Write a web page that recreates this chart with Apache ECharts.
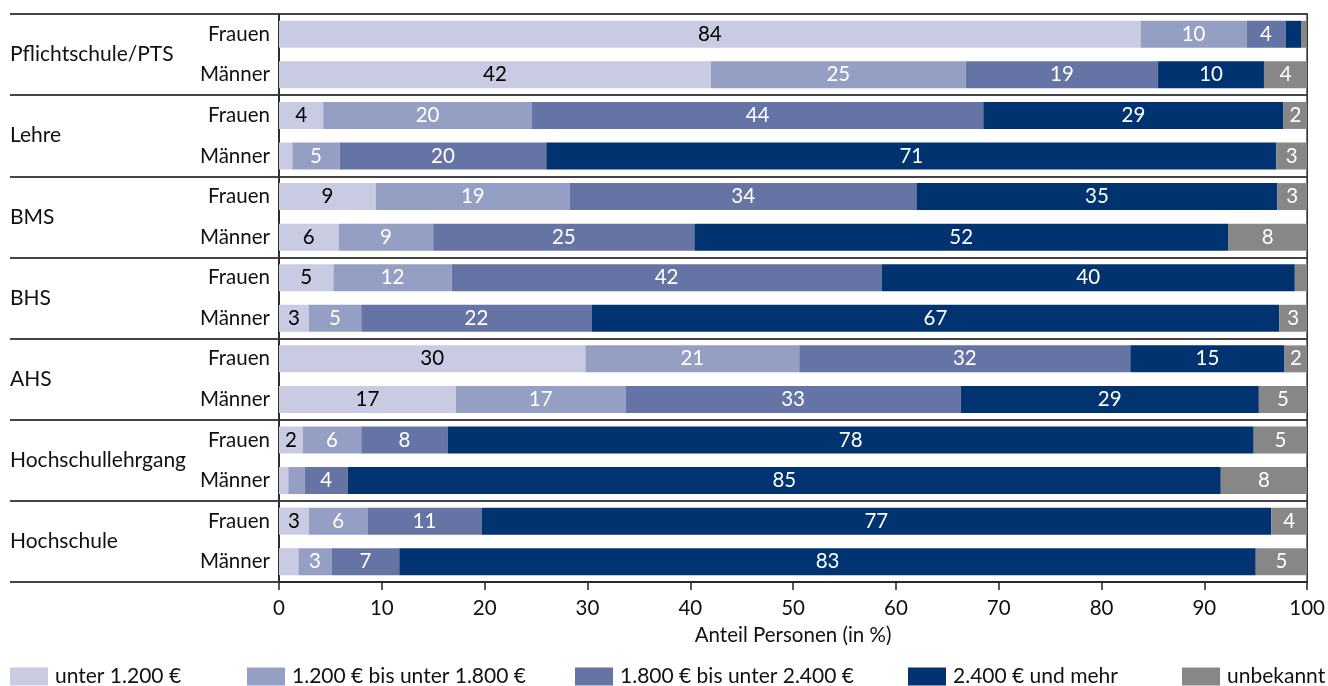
<!DOCTYPE html>
<html><head><meta charset="utf-8">
<script src="https://cdn.jsdelivr.net/npm/echarts@6/dist/echarts.min.js"></script>
<style>html,body{margin:0;padding:0;background:#fff}#c{width:1328px;height:686px}</style>
</head><body><div id="c"></div>
<script>
const groups = ['Pflichtschule/PTS','Lehre','BMS','BHS','AHS','Hochschullehrgang','Hochschule'];
const rows = ['Frauen','Männer','Frauen','Männer','Frauen','Männer','Frauen','Männer','Frauen','Männer','Frauen','Männer','Frauen','Männer'];
const seriesNames = ['unter 1.200 €','1.200 € bis unter 1.800 €','1.800 € bis unter 2.400 €','2.400 € und mehr','unbekannt'];
const unter1200 = [83.8, 42.0, 4.3, 1.3, 9.4, 5.8, 5.3, 2.9, 29.8, 17.2, 2.3, 0.9, 2.9, 1.9];
const von1200 = [10.3, 24.8, 20.3, 4.6, 18.9, 9.2, 11.5, 5.1, 20.8, 16.5, 5.7, 1.6, 5.7, 3.2];
const von1800 = [3.8, 18.7, 43.9, 20.1, 33.7, 25.4, 41.8, 22.4, 32.2, 32.6, 8.4, 4.2, 11.1, 6.6];
const ab2400 = [1.5, 10.3, 29.2, 71.0, 35.1, 51.9, 40.2, 66.9, 15.0, 29.0, 78.4, 84.9, 76.8, 83.3];
const unbekannt = [0.5, 4.2, 2.3, 3.0, 2.9, 7.7, 1.2, 2.7, 2.2, 4.7, 5.2, 8.4, 3.5, 5.0];
const xTicks = [0,10,20,30,40,50,60,70,80,90,100];

const seriesData = [unter1200, von1200, von1800, ab2400, unbekannt];
const colors = ['#c8cbe2','#959fc4','#6674a5','#00336f','#878787'];
const labelColors = ['#000','#fff','#fff','#fff','#fff'];
const FONT = 'Lato';
const legendLeft = [10, 247, 575, 908, 1182];

const chart = echarts.init(document.getElementById('c'));
chart.setOption({
  animation: false,
  textStyle: {fontFamily: FONT},
  grid: {left: 279, right: 19, top: 14, bottom: 104, show: true, borderColor: '#222', borderWidth: 1.5},
  legend: seriesNames.map((n, i) => ({
    data: [n], left: legendLeft[i], top: 666, itemWidth: 38, itemHeight: 18, itemGap: 0,
    textStyle: {fontSize: 21, color: '#111', fontFamily: FONT, padding: [0,0,0,2]},
    icon: 'rect', selectedMode: false, padding: 0
  })),
  xAxis: {
    type: 'value', min: xTicks[0], max: xTicks[xTicks.length-1], interval: 10,
    axisLine: {show: true, lineStyle: {color: '#222', width: 1.5}},
    axisTick: {show: true, length: 8, lineStyle: {color: '#222', width: 1.5}},
    axisLabel: {fontSize: 20.5, color: '#111', margin: 16, fontFamily: FONT},
    splitLine: {show: false},
    name: 'Anteil Personen (in %)', nameLocation: 'middle', nameGap: 43,
    nameTextStyle: {fontSize: 20.5, color: '#111', fontFamily: FONT}
  },
  yAxis: [
    {
      type: 'category', data: rows, inverse: true,
      axisLine: {show: true, lineStyle: {color: '#222', width: 1.5}},
      axisTick: {show: false},
      axisLabel: {fontSize: 20.5, color: '#111', margin: 9, fontFamily: FONT}
    },
    {
      type: 'category', data: groups, inverse: true, position: 'left',
      axisLine: {show: false},
      axisTick: {show: true, length: 269, alignWithLabel: false, lineStyle: {color: '#444', width: 2}},
      axisLabel: {fontSize: 21, color: '#111', margin: 269, align: 'left', fontFamily: FONT},
      splitLine: {show: true, lineStyle: {color: '#444', width: 2}}
    }
  ],
  series: seriesNames.map((n, i) => ({
    name: n, type: 'bar', stack: 'a', yAxisIndex: 0, barWidth: 27,
    data: seriesData[i],
    itemStyle: {color: colors[i]},
    label: {
      show: true, position: 'inside', fontSize: 20.5, color: labelColors[i], fontFamily: FONT,
      formatter: p => p.value >= 2 ? String(Math.round(p.value)) : ''
    }
  }))
});
</script></body></html>
